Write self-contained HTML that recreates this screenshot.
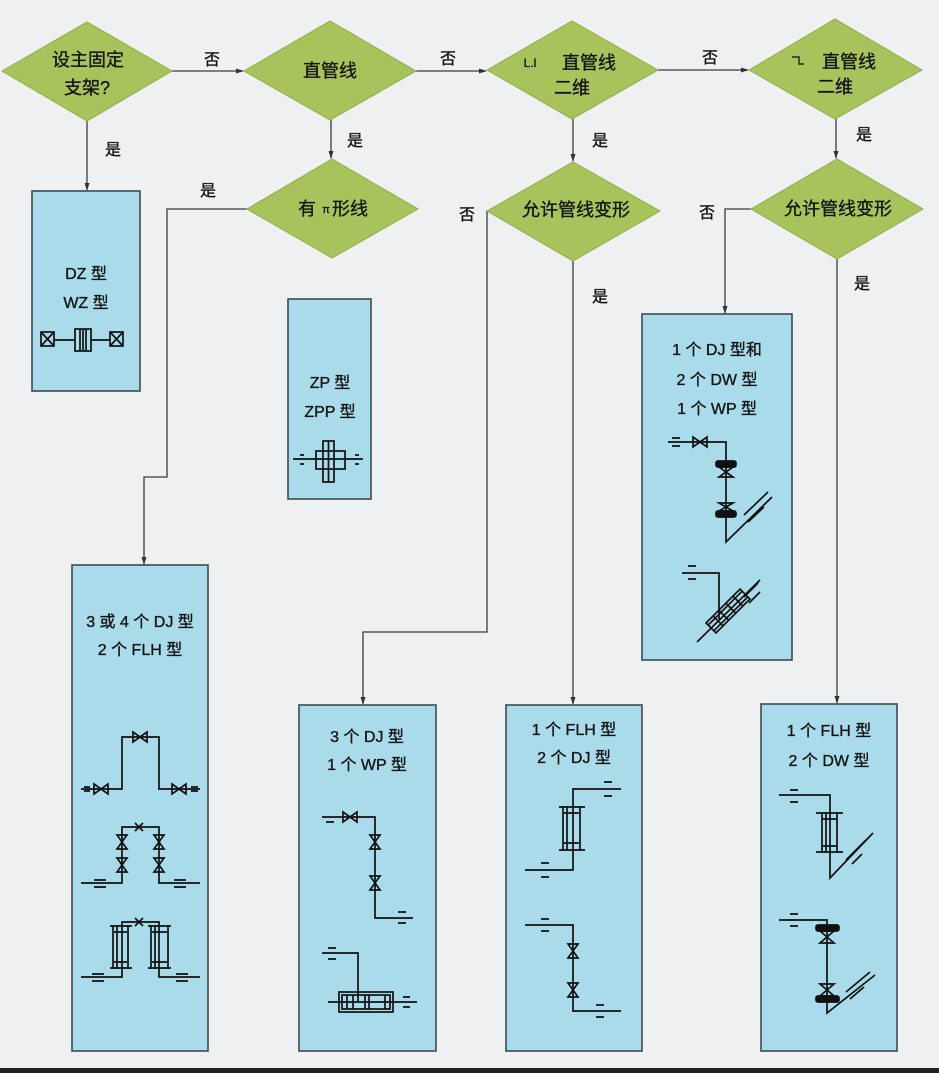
<!DOCTYPE html>
<html><head><meta charset="utf-8"><style>
html,body{margin:0;padding:0;background:#eef0f2;}
svg{display:block;}
text{font-family:"Liberation Sans","Noto Sans CJK SC",sans-serif;fill:#151515;stroke:#151515;stroke-width:0.35;}
</style></head><body>
<svg width="939" height="1073" viewBox="0 0 939 1073" xmlns="http://www.w3.org/2000/svg">
<defs>
<marker id="ar" markerWidth="8" markerHeight="8" refX="7" refY="4" orient="auto" markerUnits="userSpaceOnUse">
<path d="M0,1.5 L8,4 L0,6.5 Z" fill="#333"/>
</marker>
</defs>
<rect x="0" y="0" width="939" height="1073" fill="#eef0f2"/>
<rect x="0" y="1068" width="939" height="5" fill="#222"/>

<!-- connectors -->
<g stroke="#3a3a3a" stroke-width="1.3" fill="none">
<path d="M172 71 H243" marker-end="url(#ar)"/>
<path d="M416 71 H486" marker-end="url(#ar)"/>
<path d="M658 70 H748" marker-end="url(#ar)"/>
<path d="M87 121 V190" marker-end="url(#ar)"/>
<path d="M331 120 V158" marker-end="url(#ar)"/>
<path d="M573 119 V161" marker-end="url(#ar)"/>
<path d="M836 119 V158" marker-end="url(#ar)"/>
<path d="M247 209 H167 V477 H144 V564" marker-end="url(#ar)"/>
<path d="M487 211 V632 H363 V704" marker-end="url(#ar)"/>
<path d="M573 261 V704" marker-end="url(#ar)"/>
<path d="M751 209 H725 V313" marker-end="url(#ar)"/>
<path d="M837 259 V703" marker-end="url(#ar)"/>
</g>

<!-- diamonds -->
<g fill="#a8c35b" stroke="#93ad4a" stroke-width="1">
<polygon points="2,71 87,22 172,71 87,121"/>
<polygon points="244,71 330,21 416,71 330,120"/>
<polygon points="247,209 332,159 418,209 332,258"/>
<polygon points="487,70 572,21 658,70 572,119"/>
<polygon points="749,70 835,19 922,70 835,119"/>
<polygon points="487,211 573,162 660,211 573,261"/>
<polygon points="751,209 837,159 923,209 837,259"/>
</g>

<!-- diamond texts -->
<g font-size="18" text-anchor="middle">
<text x="88" y="66">设主固定</text>
<text x="87" y="94">支架?</text>
<text x="330" y="77">直管线</text>
<text x="350" y="215">形线</text>
<text x="307" y="215">有</text>
<text x="589" y="69">直管线</text>
<text x="572" y="94">二维</text>
<text x="849" y="68">直管线</text>
<text x="835" y="93">二维</text>
<text x="576" y="216">允许管线变形</text>
<text x="838" y="215">允许管线变形</text>
</g>
<text x="326" y="213" font-size="11" text-anchor="middle">π</text>
<text x="530" y="67" font-size="12" text-anchor="middle">L.l</text>
<path d="M792 57 H799 V64 H804" stroke="#222" stroke-width="1.4" fill="none"/>

<!-- yes/no labels -->
<g font-size="16" text-anchor="middle">
<text x="212" y="65">否</text>
<text x="448" y="64">否</text>
<text x="710" y="63">否</text>
<text x="113" y="155">是</text>
<text x="355" y="146">是</text>
<text x="208" y="196">是</text>
<text x="467" y="220">否</text>
<text x="707" y="218">否</text>
<text x="600" y="146">是</text>
<text x="864" y="140">是</text>
<text x="600" y="302">是</text>
<text x="862" y="289">是</text>
</g>

<!-- boxes -->
<g fill="#a9dbeb" stroke="#404a50" stroke-width="1.6">
<rect x="32" y="191" width="108" height="200"/>
<rect x="288" y="299" width="83" height="200"/>
<rect x="72" y="565" width="136" height="486"/>
<rect x="299" y="705" width="137" height="346"/>
<rect x="506" y="705" width="136" height="346"/>
<rect x="642" y="314" width="150" height="346"/>
<rect x="761" y="704" width="136" height="347"/>
</g>

<!-- box texts -->
<g font-size="16" text-anchor="middle">
<text x="86" y="279">DZ 型</text>
<text x="86" y="308">WZ 型</text>
<text x="330" y="388">ZP 型</text>
<text x="330" y="417">ZPP 型</text>
<text x="140" y="627">3 或 4 个 DJ 型</text>
<text x="140" y="655">2 个 FLH 型</text>
<text x="367" y="742">3 个 DJ 型</text>
<text x="367" y="770">1 个 WP 型</text>
<text x="574" y="735">1 个 FLH 型</text>
<text x="574" y="763">2 个 DJ 型</text>
<text x="717" y="355">1 个 DJ 型和</text>
<text x="717" y="385">2 个 DW 型</text>
<text x="717" y="414">1 个 WP 型</text>
<text x="829" y="736">1 个 FLH 型</text>
<text x="829" y="766">2 个 DW 型</text>
</g>

<!-- drawings -->
<g stroke="#111" stroke-width="1.7" fill="none">
<!-- DZ symbol -->
<rect x="41" y="332" width="13" height="14"/>
<path d="M41 332 L54 346 M54 332 L41 346"/>
<path d="M54 340 H75"/>
<rect x="75" y="329" width="16" height="22"/>
<path d="M80 329 V351 M83 329 V351 M86 329 V351"/>
<path d="M91 340 H110"/>
<rect x="110" y="332" width="13" height="14"/>
<path d="M110 332 L123 346 M123 332 L110 346"/>

<!-- ZP symbol -->
<path d="M293 459 H363"/>
<rect x="316" y="451" width="29" height="18"/>
<rect x="323" y="441" width="11" height="41"/>
<path d="M328.5 441 V482"/>
<path d="M300 455 H304 M300 464 H304 M355 455 H359 M355 464 H359"/>

<!-- BL drawing 1 -->
<path d="M81 789 H122 V737 H159 V789 H200"/>
<path d="M94 784 L108 794 L108 784 L94 794 Z"/>
<path d="M133 732 L147 742 L147 732 L133 742 Z"/>
<path d="M172 784 L186 794 L186 784 L172 794 Z"/>
<path d="M84 787 H90 M84 791 H90 M191 787 H198 M191 791 H198"/>
<!-- BL drawing 2 -->
<path d="M81 883 H122 V827 H159 V883 H200"/>
<path d="M135 823 L143 831 M143 823 L135 831"/>
<path d="M117 835 H127 L117 849 H127 Z M154 835 H164 L154 849 H164 Z"/>
<path d="M117 858 H127 L117 872 H127 Z M154 858 H164 L154 872 H164 Z"/>
<path d="M94 880 H106 M94 887 H106 M174 880 H186 M174 887 H186"/>
<!-- BL drawing 3 -->
<path d="M81 977 H122 V922 H159 V977 H200"/>
<path d="M135 918 L143 926 M143 918 L135 926"/>
<path d="M113 925 V969 M117 925 V969 M128 925 V969 M110 926 H132 M110 968 H132 M114 932 H127 M114 962 H127"/>
<path d="M151 925 V969 M155 925 V969 M168 925 V969 M148 926 H171 M148 968 H171 M152 932 H167 M152 962 H167"/>
<path d="M92 974 H104 M92 981 H104 M176 974 H188 M176 981 H188"/>

<!-- 3DJ drawing 1 -->
<path d="M322 817 H375 V918 H413"/>
<path d="M343 812 L357 822 L357 812 L343 822 Z"/>
<path d="M370 835 H380 L370 849 H380 Z"/>
<path d="M370 876 H380 L370 890 H380 Z"/>
<path d="M326 822 H334 M398 912 H406 M398 923 H406"/>
<!-- 3DJ drawing 2 -->
<path d="M322 953 H358 V1002"/>
<path d="M328 948 H336 M328 959 H336"/>
<path d="M328 1002 H417"/>
<rect x="339" y="992" width="54" height="20"/>
<rect x="342" y="995" width="48" height="14"/>
<path d="M347 995 V1009 M353 995 V1009 M365 995 V1009 M369 995 V1009 M385 995 V1009"/>
<path d="M403 997 H410 M403 1007 H410"/>

<!-- FLH/DJ drawing 1 -->
<path d="M621 789 H573 V870 H525"/>
<path d="M563 806 V851 M567 806 V851 M580 806 V851 M559 807 H585 M559 850 H585 M564 813 H579 M564 843 H579"/>
<path d="M604 782 H612 M604 796 H612 M541 863 H549 M541 877 H549"/>
<!-- FLH/DJ drawing 2 -->
<path d="M525 925 H573 V1011 H621"/>
<path d="M568 944 H578 L568 958 H578 Z"/>
<path d="M568 983 H578 L568 997 H578 Z"/>
<path d="M541 919 H549 M541 931 H549 M596 1005 H604 M596 1017 H604"/>

<!-- TR drawing 1 -->
<path d="M668 442 H726 V542 L772 497"/>
<path d="M693 437 L707 447 L707 437 L693 447 Z"/>
<path d="M672 438 H680 M672 446 H680"/>
<rect x="716" y="461" width="20" height="6" rx="2" fill="#111"/>
<path d="M719 467 H733 L719 477 H733 Z"/>
<path d="M719 503 H733 L719 511 H733 Z"/>
<rect x="716" y="511" width="20" height="6" rx="2" fill="#111"/>
<path d="M744 515 L768 492 M748 522 L764 507"/>
<!-- TR drawing 2 -->
<path d="M682 573 H719 V619"/>
<path d="M688 566 H696 M688 579 H696"/>
<path d="M697 642 L760 580"/>
<g transform="rotate(-45 728 611)">
<rect x="704" y="604" width="48" height="14"/>
<path d="M704 607 H752 M704 615 H752 M714 604 V618 M722 604 V618 M732 604 V618 M742 604 V618"/>
</g>
<path d="M744 597 L758 583 M749 603 L760 592"/>

<!-- BR drawing 1 -->
<path d="M779 795 H830 V878 L873 833"/>
<path d="M790 790 H798 M790 802 H798"/>
<path d="M822 812 V853 M826 812 V853 M837 812 V853 M816 813 H843 M816 852 H843 M822 819 H837 M822 846 H837"/>
<path d="M846 860 L866 840 M852 864 L862 854"/>
<!-- BR drawing 2 -->
<path d="M779 920 H827 V1013 L875 975"/>
<path d="M790 914 H798 M790 926 H798"/>
<rect x="816" y="925" width="23" height="6" rx="2" fill="#111"/>
<path d="M820 931 H834 L820 943 H834 Z"/>
<path d="M820 984 H834 L820 996 H834 Z"/>
<rect x="816" y="996" width="23" height="6" rx="2" fill="#111"/>
<path d="M846 992 L870 972 M850 999 L864 987"/>
</g>
</svg>
</body></html>
